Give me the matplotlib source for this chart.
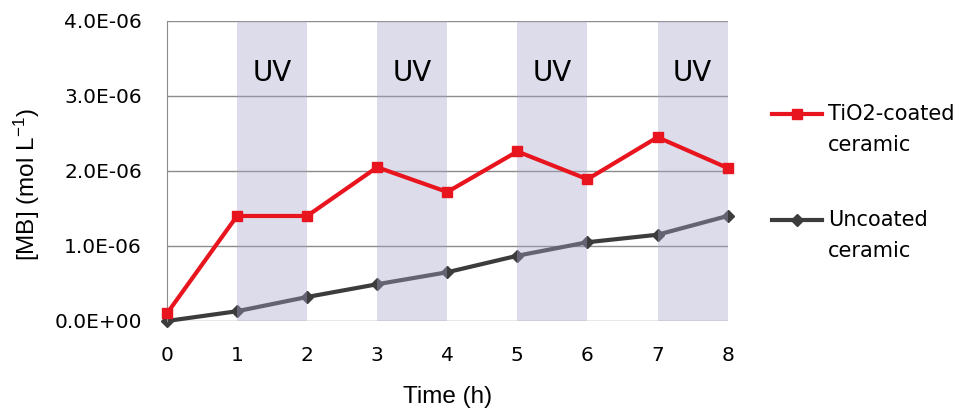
import numpy as np
import matplotlib.pyplot as plt
from matplotlib.legend_handler import HandlerLine2D

# data
hours = [0, 1, 2, 3, 4, 5, 6, 7, 8]
tio2_coated = [0.10e-6, 1.40e-6, 1.40e-6, 2.05e-6, 1.72e-6, 2.26e-6, 1.89e-6, 2.45e-6, 2.04e-6]
uncoated = [0.0, 0.13e-6, 0.32e-6, 0.49e-6, 0.65e-6, 0.87e-6, 1.05e-6, 1.15e-6, 1.40e-6]
uv_periods = [(1, 2), (3, 4), (5, 6), (7, 8)]
y_ticks = [0, 1e-6, 2e-6, 3e-6, 4e-6]
y_tick_labels = ["0.0E+00", "1.0E-06", "2.0E-06", "3.0E-06", "4.0E-06"]

label_font = "Liberation Sans"
tick_font = "DejaVu Sans"

plt.rcParams["mathtext.fontset"] = "custom"
plt.rcParams["mathtext.rm"] = label_font
plt.rcParams["mathtext.it"] = label_font


class FirstLineHandler(HandlerLine2D):
    # legend line sits next to the first line of a two-line label
    def create_artists(self, legend, orig_handle, xdescent, ydescent,
                       width, height, fontsize, trans):
        artists = super().create_artists(legend, orig_handle, xdescent, ydescent,
                                         width, height, fontsize, trans)
        for a in artists:
            a.set_ydata(np.asarray(a.get_ydata(), dtype=float) + 0.78 * fontsize)
        return artists


fig = plt.figure(figsize=(9.65, 4.11), dpi=100)
ax = fig.add_axes([0.173, 0.219, 0.581, 0.730])

# gridlines and gray series below the UV shading, red series above
for yv in y_ticks:
    ax.axhline(yv, color="#8c8c8c", lw=1.0, zorder=0)

ax.plot(hours, uncoated, color="#3c3c3c", lw=3, marker="D", markersize=6,
        label="Uncoated\nceramic", zorder=1, clip_on=False)

for x0, x1 in uv_periods:
    ax.axvspan(x0, x1, color="#a6a4c8", alpha=0.38, lw=0, zorder=2)
    ax.text((x0 + x1) / 2, 3.3e-6, "UV", ha="center", va="center",
            fontsize=20, family=tick_font, zorder=4)

ax.plot(hours, tio2_coated, color="#e8141e", lw=3, marker="s", markersize=7,
        label="TiO2-coated\nceramic", zorder=3, clip_on=False)

ax.set_xlim(0, 8)
ax.set_ylim(0, 4e-6)
ax.set_xticks(hours)
ax.set_xticklabels([str(h) for h in hours], family=tick_font, fontsize=14.5)
ax.set_yticks(y_ticks)
ax.set_yticklabels(y_tick_labels, family=tick_font, fontsize=14.5)
ax.tick_params(length=0)
ax.tick_params(axis="y", pad=18)
ax.tick_params(axis="x", pad=18)

for side in ["top", "right", "bottom"]:
    ax.spines[side].set_visible(False)
ax.spines["left"].set_color("#8c8c8c")

ax.set_xlabel("Time (h)", family=label_font, fontsize=17.5, labelpad=15)
ax.set_ylabel("[MB] (mol L$^{\\mathrm{-1}}$)", family=label_font, fontsize=17.5)
ax.yaxis.set_label_coords(-0.222, 0.453)

handles, labels = ax.get_legend_handles_labels()
leg = ax.legend(handles[::-1], labels[::-1], loc="upper left",
                bbox_to_anchor=(1.06, 0.757), frameon=False,
                prop={"family": tick_font, "size": 15},
                handlelength=2.4, handletextpad=0.3,
                labelspacing=2.6, borderpad=0,
                handler_map={h: FirstLineHandler() for h in handles})
for t in leg.get_texts():
    t.set_linespacing(1.7)

fig.savefig("out.png", dpi=100)
